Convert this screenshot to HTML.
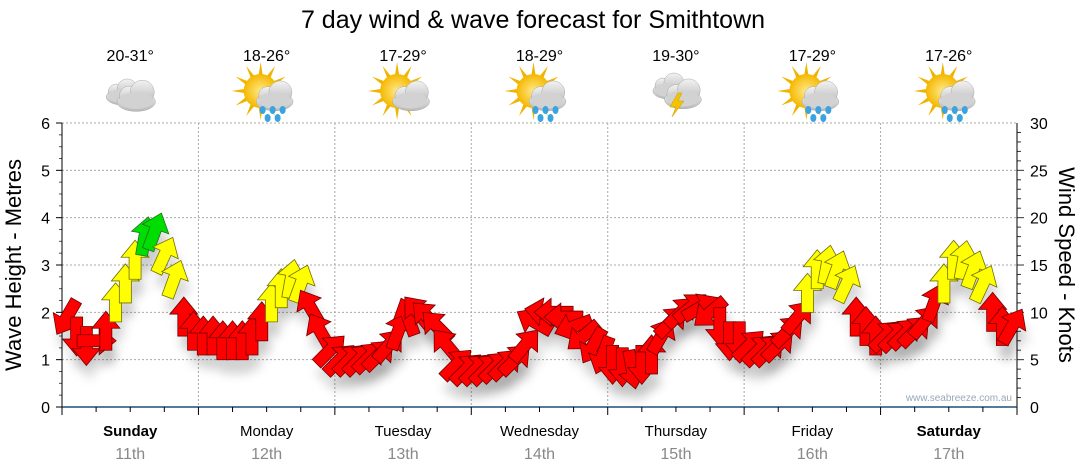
<!DOCTYPE html>
<html><head><meta charset="utf-8"><style>
body{margin:0;background:#fff;font-family:"Liberation Sans",sans-serif}
svg{display:block}
</style></head><body>
<svg id="c" width="1080" height="475" xmlns="http://www.w3.org/2000/svg">
<defs>
<filter id="sh" x="-50%" y="-50%" width="200%" height="200%"><feGaussianBlur stdDeviation="5"/></filter>
<radialGradient id="sun" cx="50%" cy="50%" r="50%"><stop offset="0" stop-color="#ffe98a"/><stop offset="1" stop-color="#f5b800"/></radialGradient>
<linearGradient id="cl" x1="0" y1="0" x2="0" y2="1"><stop offset="0" stop-color="#f2f2f2"/><stop offset="1" stop-color="#b8b8b8"/></linearGradient>
</defs>
<text x="533" y="28" font-size="25" text-anchor="middle" fill="#000">7 day wind &amp; wave forecast for Smithtown</text>
<g id="grid"></g><g id="icons"></g><g id="axes"></g><g id="shadows"></g><g id="marks"></g>
<text x="1012" y="401" font-size="10" text-anchor="end" fill="#9aa8b8">www.seabreeze.com.au</text>
<text transform="translate(21,265) rotate(-90)" font-size="22" text-anchor="middle">Wave Height - Metres</text>
<text transform="translate(1059,265) rotate(90)" font-size="22" text-anchor="middle">Wind Speed - Knots</text>
</svg>
<script>
const days=["Sunday","Monday","Tuesday","Wednesday","Thursday","Friday","Saturday"];
const dates=["11th","12th","13th","14th","15th","16th","17th"];
const temps=["20-31°","18-26°","17-29°","18-29°","19-30°","17-29°","17-26°"];
const icons=["cloud","sunrain","suncloud","sunrain","storm","sunrain","sunrain"];
const leftTicks=[0,1,2,3,4,5,6];
const rightTicks=[0,5,10,15,20,25,30];
const heights=[1.9,1.5,1.3,1.4,1.6,2.2,2.6,3.1,3.6,3.7,3.2,2.7,1.9,1.6,
1.5,1.5,1.4,1.4,1.4,1.5,1.8,2.2,2.5,2.7,2.6,2.1,1.6,1.2,
1.0,1.0,1.0,1.05,1.1,1.3,1.6,1.9,2.0,1.9,1.7,1.3,0.9,0.8,
0.8,0.8,0.85,0.9,1.0,1.3,1.8,2.0,2.0,1.9,1.7,1.5,1.3,1.1,
0.9,0.85,0.8,0.9,1.1,1.5,1.8,2.0,2.1,2.1,2.0,1.7,1.4,1.4,
1.3,1.2,1.2,1.3,1.6,1.9,2.4,2.9,3.0,2.9,2.6,1.9,1.7,1.5,
1.5,1.5,1.55,1.6,1.8,2.2,2.6,3.1,3.1,2.9,2.6,2.0,1.7,1.7];
const windSpeed=[8,7,7,7,9,13,14,15,19,19,15,13,9,8,
8,8,8,8,8,8,9,10,13,13,13,9,8,8,
7,7,7,7,7,7,7,7,7,7,7,7,7,7,
7,7,7,7,7,7,7,7,7,7,7,7,7,7,
7,7,7,7,7,7,7,7,7,7,7,7,7,7,
8,8,8,8,9,9,13,14,14,14,13,9,8,8,
8,8,8,8,9,9,13,14,14,14,13,9,8,8];
const windDir=[210,180,180,90,0,0,0,0,10,20,25,20,0,0,
0,0,0,0,0,0,0,0,0,10,20,330,330,45,
45,45,45,45,45,40,20,340,320,315,315,320,45,45,
45,45,45,45,45,40,300,280,270,270,250,230,210,200,
180,180,170,180,0,30,45,45,50,60,230,180,180,180,
45,45,45,45,45,40,0,0,10,20,25,0,0,0,
45,45,45,45,40,20,0,0,10,20,25,0,0,30];

const NS="http://www.w3.org/2000/svg";
const X0=62,X1=1017,Y0=407,Y6=123,PER=14;
const DW=(X1-X0)/7;
const yL=v=>Y0-(Y0-Y6)*v/6;
const yR=v=>Y0-(Y0-Y6)*v/30;
const xI=i=>X0+(i+0.5)*DW/PER;
function mk(t,a,p){const e=document.createElementNS(NS,t);for(const k in a)e.setAttribute(k,a[k]);(p||document.getElementById('c')).appendChild(e);return e;}
const grid=document.getElementById('grid'),axes=document.getElementById('axes');
leftTicks.forEach(v=>{if(v>0){const l=mk('line',{x1:X0,x2:X1,y1:yL(v),y2:yL(v),stroke:'#aaa','stroke-dasharray':'2,2'},grid);

}
const t=mk('text',{x:50,y:yL(v)+6,'font-size':16,'text-anchor':'end'},axes);t.textContent=v;


mk('line',{x1:X0-6,x2:X0,y1:yL(v),y2:yL(v),stroke:'#000'},axes);});
for(let k=1;k<24;k++){if(k%4)mk('line',{x1:X0-3,x2:X0,y1:yL(k/4),y2:yL(k/4),stroke:'#555'},axes);}
for(let k=1;k<30;k++){mk('line',{x1:X1,x2:X1+(k%5?4:7),y1:yR(k),y2:yR(k),stroke:'#333'},axes);}
rightTicks.forEach(v=>{const t=mk('text',{x:X1+13,y:yR(v)+6,'font-size':16},axes);t.textContent=v;

});
mk('line',{x1:X0,x2:X0,y1:Y6,y2:Y0+6,stroke:'#000'},axes);
mk('line',{x1:X1,x2:X1,y1:Y6,y2:Y0,stroke:'#000'},axes);
mk('line',{x1:X0,x2:X1,y1:Y0,y2:Y0,stroke:'#1f4e79','stroke-width':1.5},axes);
for(let d=0;d<7;d++){const xd=X0+d*DW;
if(d>0){const g=mk('line',{x1:xd,x2:xd,y1:Y6,y2:Y0,stroke:'#aaa','stroke-dasharray':'2,2'},grid);

}
for(let q=0;q<4;q++)mk('line',{x1:xd+q*DW/4,x2:xd+q*DW/4,y1:Y0,y2:Y0+(q?5:8),stroke:'#000'},axes);
const cx=xd+DW/2;
const dn=mk('text',{x:cx,y:436,'font-size':15,'text-anchor':'middle','font-weight':(d==0||d==6)?'bold':'normal'},axes);dn.textContent=days[d];


const dt=mk('text',{x:cx,y:459,'font-size':16,'text-anchor':'middle',fill:'#888'},axes);dt.textContent=dates[d];


const tt=mk('text',{x:cx,y:61,'font-size':16,'text-anchor':'middle'},document.getElementById('icons'));tt.textContent=temps[d];


drawIcon(icons[d],cx,95);}
mk('line',{x1:X1,x2:X1,y1:Y0,y2:Y0+8,stroke:'#000'},axes);
function cloud(g,x,y,s){const f={fill:'url(#cl)',stroke:'#aaa','stroke-width':0.5};
mk('ellipse',Object.assign({cx:x,cy:y+4*s,rx:16*s,ry:8*s},f),g);
mk('circle',Object.assign({cx:x-6*s,cy:y-1*s,r:8*s},f),g);
mk('circle',Object.assign({cx:x+5*s,cy:y-4*s,r:10*s},f),g);
mk('ellipse',{cx:x,cy:y+3*s,rx:14*s,ry:7*s,fill:'#d2d2d2'},g);}
function sun(g,x,y){for(let a=0;a<360;a+=30){const r=a*Math.PI/180;mk('polygon',{points:`${x+Math.cos(r)*29},${y+Math.sin(r)*29} ${x+Math.cos(r+0.15)*15},${y+Math.sin(r+0.15)*15} ${x+Math.cos(r-0.15)*15},${y+Math.sin(r-0.15)*15}`,fill:'#f0b400'},g);}
mk('circle',{cx:x,cy:y,r:17,fill:'url(#sun)'},g);}
function drawIcon(type,x,y){const g=mk('g',{},document.getElementById('icons'));


if(type=='cloud'){cloud(g,x-8,y-2,1.0);cloud(g,x+6,y+2,1.2);}
else if(type=='storm'){cloud(g,x-7,y-8,1.0);cloud(g,x+7,y,1.15);mk('polygon',{points:`${x+2},${y-2} ${x-6},${y+12} ${x},${y+12} ${x-4},${y+22} ${x+8},${y+6} ${x+2},${y+6} ${x+6},${y-2}`,fill:'#f5c400',stroke:'#c90',"stroke-width":0.5},g);}
else{sun(g,x-6,y-4);cloud(g,x+8,y+2,1.15);if(type=='sunrain'){[[-4,15],[6,15],[16,15],[1,23],[11,23]].forEach(p=>mk('ellipse',{cx:x+p[0],cy:y+p[1],rx:3,ry:4,fill:'#3aa3e0'},g));}}}
const ARROW="M-6,19 L-6,-3 L-14,-3 L0,-20 L14,-3 L6,-3 L6,19 Z";
const sg=document.getElementById('shadows'),mg=document.getElementById('marks');
heights.forEach((h,i)=>{const x=xI(i),y=yL(h);
const s=mk('path',{d:ARROW,transform:`translate(${x+3},${y+14}) rotate(${windDir[i]})`,fill:'#000','fill-opacity':0.15,filter:'url(#sh)'},sg);

});
heights.forEach((h,i)=>{const x=xI(i),y=yL(h),w=windSpeed[i];
const col=w>=18?'#00dd00':(w>=10?'#ffff00':'#ff0000');
const st=w>=18?'#207020':(w>=10?'#707000':'#700000');
const a=mk('path',{d:ARROW,transform:`translate(${x},${y}) rotate(${windDir[i]})`,fill:col,stroke:st,'stroke-width':0.8},mg);

});
</script>
</body></html>
